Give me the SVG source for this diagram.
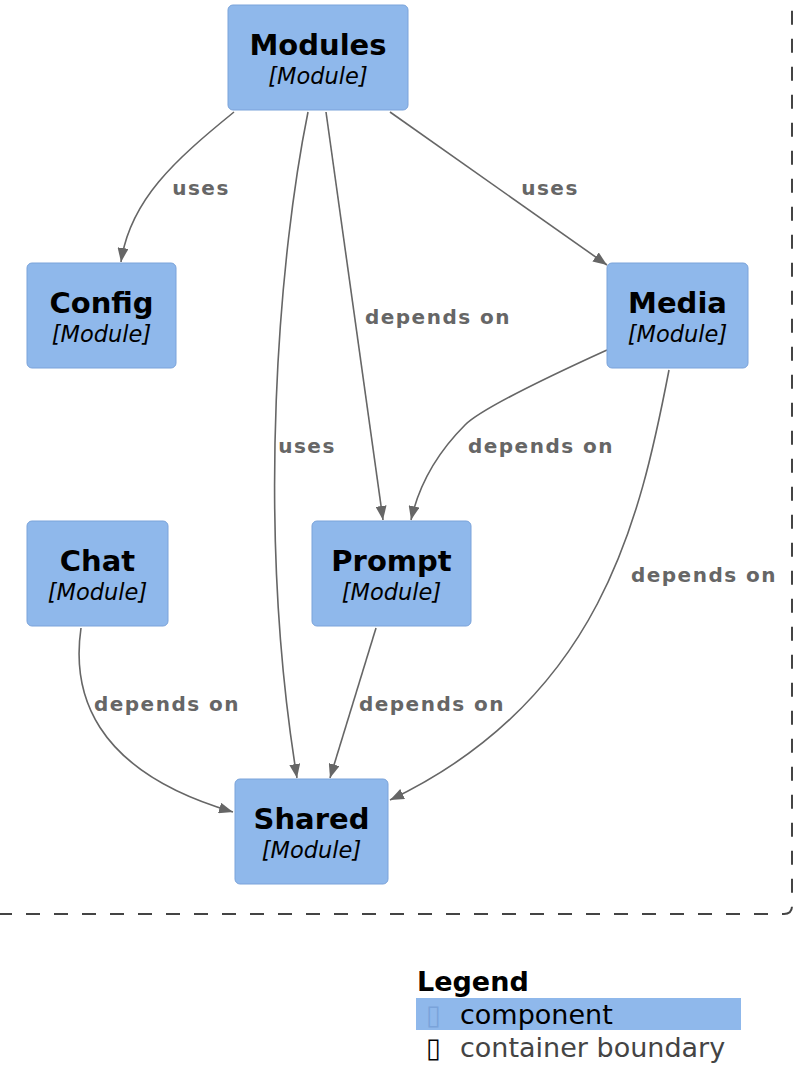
<svg xmlns="http://www.w3.org/2000/svg" width="794" height="1090" viewBox="0 0 794 1090">
<style>
.box{fill:#8FB8EB;stroke:#7AA3DA;stroke-width:1}
.t{font-family:"DejaVu Sans",sans-serif;font-weight:bold;font-size:29px;fill:#000;text-anchor:middle}
.s{font-family:"DejaVu Sans",sans-serif;font-style:italic;font-size:22.5px;fill:#000;text-anchor:middle}
.e{fill:none;stroke:#666;stroke-width:1.6}
.l{font-family:"DejaVu Sans",sans-serif;font-weight:bold;font-size:20px;fill:#666;text-anchor:middle;letter-spacing:1.5px}
.lg{font-family:"DejaVu Sans",sans-serif;font-size:27px}
</style>
<defs>
<marker id="ah" viewBox="0 0 14 11" refX="14" refY="5.5" markerWidth="14" markerHeight="11" markerUnits="userSpaceOnUse" orient="auto">
<path d="M0,0 L14,5.5 L0,11 z" fill="#666"/>
</marker>
</defs>
<g id="boundary">
<path d="M-2,914 L784,914 Q792,914 792,906 L792,-2" fill="none" stroke="#444" stroke-width="2" stroke-dasharray="14 14"/>
</g>
<g id="connectors">
<path class="e" marker-end="url(#ah)" d="M234,112 C175,160 130,200 121,262"/>
<path class="e" marker-end="url(#ah)" d="M308,112 C280,250 255,520 297,778"/>
<path class="e" marker-end="url(#ah)" d="M326,112 L383,520"/>
<path class="e" marker-end="url(#ah)" d="M390,112 L607,265"/>
<path class="e" marker-end="url(#ah)" d="M607,350 C530,385 480,410 465,425 C440,450 420,480 411,520"/>
<path class="e" marker-end="url(#ah)" d="M669,370 C640,520 600,700 390,800"/>
<path class="e" marker-end="url(#ah)" d="M376,628 L330,778"/>
<path class="e" marker-end="url(#ah)" d="M81,628 C72,690 90,770 233,812"/>
<text class="l" x="201" y="195">uses</text>
<text class="l" x="307" y="453">uses</text>
<text class="l" x="438" y="324">depends on</text>
<text class="l" x="550" y="195">uses</text>
<text class="l" x="541" y="453">depends on</text>
<text class="l" x="704" y="582">depends on</text>
<text class="l" x="432" y="711">depends on</text>
<text class="l" x="167" y="711">depends on</text>
</g>
<g id="modules">
<rect class="box" x="228" y="5" width="180" height="105" rx="5"/>
<text class="t" x="318" y="55">Modules</text>
<text class="s" x="318" y="84">[Module]</text>
</g>
<g id="config">
<rect class="box" x="27" y="263" width="149" height="105" rx="5"/>
<text class="t" x="101.5" y="313">Config</text>
<text class="s" x="101.5" y="342">[Module]</text>
</g>
<g id="media">
<rect class="box" x="607" y="263" width="141" height="105" rx="5"/>
<text class="t" x="677.5" y="313">Media</text>
<text class="s" x="677.5" y="342">[Module]</text>
</g>
<g id="chat">
<rect class="box" x="27" y="521" width="141" height="105" rx="5"/>
<text class="t" x="97.5" y="571">Chat</text>
<text class="s" x="97.5" y="600">[Module]</text>
</g>
<g id="prompt">
<rect class="box" x="312" y="521" width="159" height="105" rx="5"/>
<text class="t" x="391.5" y="571">Prompt</text>
<text class="s" x="391.5" y="600">[Module]</text>
</g>
<g id="shared">
<rect class="box" x="235" y="779" width="153" height="105" rx="5"/>
<text class="t" x="311.5" y="829">Shared</text>
<text class="s" x="311.5" y="858">[Module]</text>
</g>
<g id="legend">
<text class="lg" x="417" y="991" font-size="25.5" font-weight="bold" fill="#000">Legend</text>
<rect x="416" y="998" width="325" height="32" fill="#8FB8EB"/>
<text class="lg" x="426" y="1024" font-size="18" fill="#7AA3DA">▯</text>
<text class="lg" x="460" y="1024" fill="#000">component</text>
<text class="lg" x="426" y="1057" font-size="18" fill="#000">▯</text>
<text class="lg" x="460" y="1057" fill="#444">container boundary</text>
</g>
</svg>
